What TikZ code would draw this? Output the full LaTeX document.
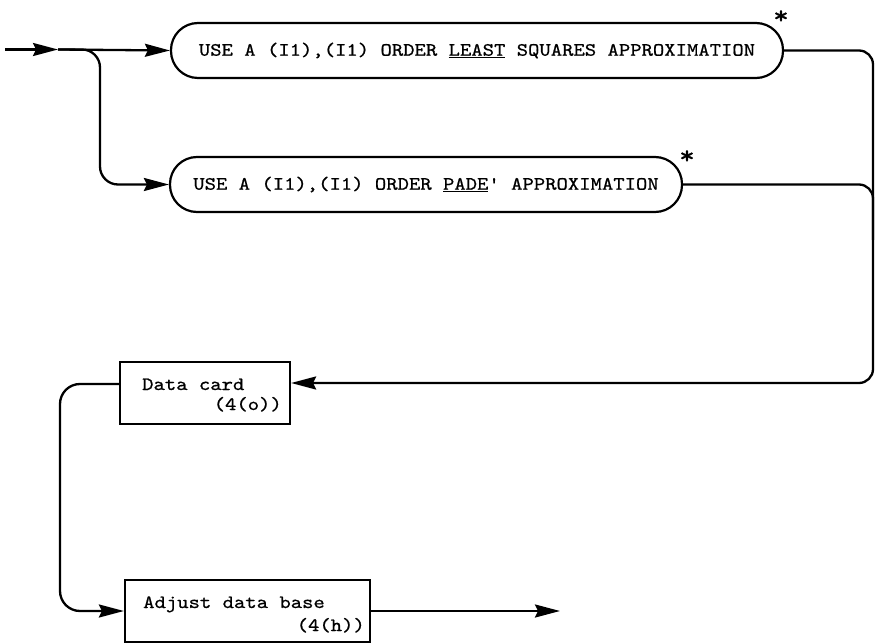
\documentclass[tikz,border=0pt]{standalone}
\usepackage{fontspec}
\newfontfamily\tw{lmmono10-regular.otf}[Ligatures=TeXOff,FakeStretch=1.15,FakeBold=0.8]
\usetikzlibrary{arrows.meta}
\tikzset{
  flow/.style={line width=2.3pt, rounded corners=14pt},
  arrowed/.style={-{Stealth[length=25pt,width=13pt,inset=3pt]}},
  typed/.style={font=\tw\fontsize{18.8pt}{22pt}\selectfont},
  stadium/.style={draw, typed, line width=2.2pt, rounded corners=27pt,
    minimum height=55pt, inner sep=0pt},
  card/.style={draw, line width=2.2pt, inner sep=0pt, minimum height=62pt},
  txt/.style={typed, inner sep=0pt},
  star/.style={inner sep=0pt, font=\tw\fontsize{26pt}{28pt}\selectfont},
}
\begin{document}
\begin{tikzpicture}[x=1pt,y=-1pt]
\useasboundingbox (0,0) rectangle (875,644);

% approximation choices
\node[stadium, minimum width=612pt] (b1) at (477,50.5)
  {USE A (I1),(I1) ORDER \underline{LEAST} SQUARES APPROXIMATION};
\node[stadium, minimum width=512pt] (b2) at (426,184.5)
  {USE A (I1),(I1) ORDER \underline{PADE}' APPROXIMATION};
\node[star] (s1) at (781,17) {*};
\node[star] (s2) at (687,157) {*};

% data card
\node[card, minimum width=170pt] (dc) at (205,393) {};
\node[txt, anchor=base west] (dct) at (142,390) {Data card};
\node[txt, anchor=base east] (dcr) at (282,410) {(4(o))};

% adjust data base
\node[card, minimum width=245pt] (ad) at (247.5,611) {};
\node[txt, anchor=base west] (adt) at (143,608) {Adjust data base};
\node[txt, anchor=base east] (adr) at (365,631) {(4(h))};

% connectors
\coordinate (in) at (5,49.5);
\coordinate (mid) at (58,49.5);
\coordinate (out) at (560,611);
\draw[flow, arrowed] (in) -- (mid);
\draw[flow, arrowed] (mid) -- (b1.west);
\draw[flow, arrowed, rounded corners=18pt] (mid) -- (100,49.5) |- (b2.west);
\draw[flow, arrowed] (b1.east) -- (873,50.5) |- ([yshift=10pt]dc.east);
\draw[flow] (b2.east) -- (873,184.5) -- (873,240);
\draw[flow, arrowed, rounded corners=20pt] ([yshift=9pt]dc.west) -| (60,500) |- (ad.west);
\draw[flow, arrowed] (ad.east) -- (out);
\end{tikzpicture}
\end{document}
